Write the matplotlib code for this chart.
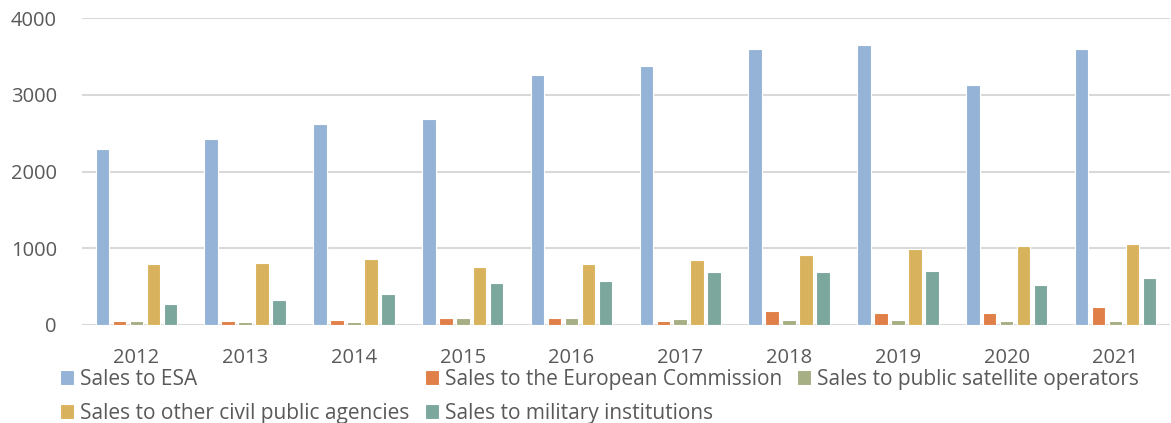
import numpy as np
import matplotlib
matplotlib.use("Agg")
import matplotlib.pyplot as plt

# Donnees
years = ["2012", "2013", "2014", "2015", "2016", "2017", "2018", "2019", "2020", "2021"]
esa      = [2295, 2430, 2625, 2690, 3260, 3375, 3600, 3650, 3130, 3600]
ec       = [45, 50, 60, 90, 90, 50, 175, 150, 160, 230]
sat_ops  = [45, 40, 40, 90, 90, 80, 60, 60, 52, 52]
civil    = [795, 805, 855, 760, 790, 840, 910, 990, 1030, 1050]
military = [275, 325, 400, 540, 575, 685, 690, 700, 515, 605]

series = [
    ("Sales to ESA", esa, "#95B3D7"),
    ("Sales to the European Commission", ec, "#E07F47"),
    ("Sales to public satellite operators", sat_ops, "#A6AE84"),
    ("Sales to other civil public agencies", civil, "#D9B25D"),
    ("Sales to military institutions", military, "#7BA79D"),
]

plt.rcParams["font.family"] = ["Open Sans", "DejaVu Sans"]

fig = plt.figure(figsize=(11.71, 4.23), dpi=100)
ax = fig.add_axes([0.07, 0.232, 0.929, 0.725])

x = np.arange(len(years))
step = 0.156
width = 0.125
handles = {}
for i, (name, vals, color) in enumerate(series):
    h = ax.bar(x + (i - 2) * step, vals, width, color=color,
               edgecolor="white", linewidth=0.8, label=name, zorder=3)
    handles[name] = h

ax.set_xlim(-0.5, len(years) - 0.5)
ax.set_ylim(0, 4000)
ax.set_yticks([0, 1000, 2000, 3000, 4000])
ax.set_xticks(x)
ax.set_xticklabels(years)
ax.grid(axis="y", color="#D9D9D9", linewidth=1.5, zorder=0)
for s in ax.spines.values():
    s.set_visible(False)
ax.tick_params(axis="both", length=0, labelsize=14.5, colors="#595959")
ax.tick_params(axis="x", pad=17)
ax.tick_params(axis="y", pad=18)

# ordre pour remplir les lignes comme dans la figure d'origine
order = ["Sales to ESA", "Sales to other civil public agencies",
         "Sales to the European Commission", "Sales to military institutions",
         "Sales to public satellite operators"]
leg = fig.legend([handles[n] for n in order], order, loc="upper left",
                 bbox_to_anchor=(0.0512, 0.128), ncol=3, frameon=False,
                 fontsize=15, handlelength=0.67, handleheight=0.67,
                 handletextpad=0.28, columnspacing=0.75, labelspacing=0.62,
                 borderaxespad=0, borderpad=0)
for t in leg.get_texts():
    t.set_color("#595959")

fig.savefig("out.png", dpi=100)
